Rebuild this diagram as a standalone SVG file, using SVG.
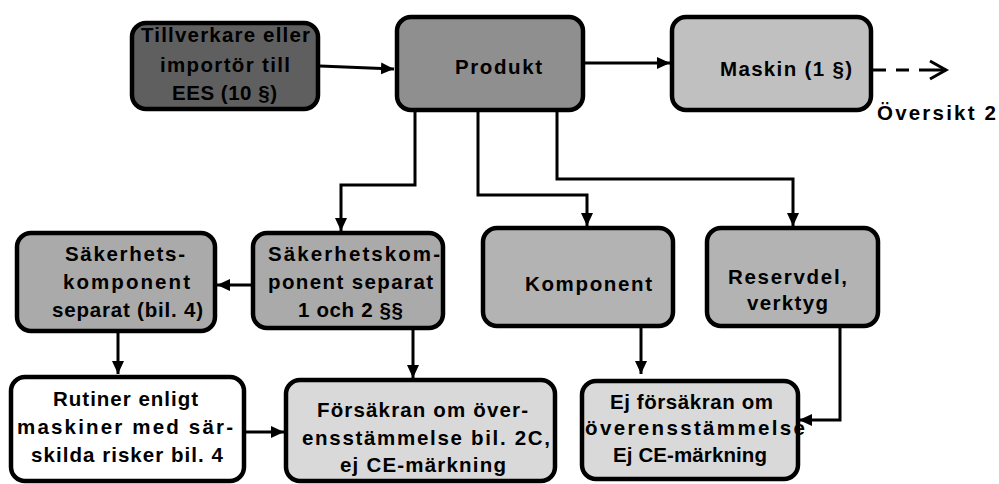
<svg xmlns="http://www.w3.org/2000/svg" width="999" height="484" viewBox="0 0 999 484">
<style>
.box{stroke:#000;stroke-width:4.5}
.t{font-family:"Liberation Sans",Arial,sans-serif;font-weight:bold;font-size:20.5px;fill:#000}
.c{fill:none;stroke:#000;stroke-width:3}
</style>
<defs>
<marker id="ah" markerUnits="userSpaceOnUse" markerWidth="14" markerHeight="14" viewBox="0 0 14 14" refX="13" refY="7" orient="auto">
<path d="M0,1 L13,7 L0,13 Z" fill="#000"/>
</marker>
</defs>
<rect width="999" height="484" fill="#fff"/>
<g id="connectors">
<path class="c" d="M320,66 L394,69" marker-end="url(#ah)"/>
<path class="c" d="M585,63 H670" marker-end="url(#ah)"/>
<path class="c" d="M873,70 H946" stroke-dasharray="13 10 13 10 40"/>
<path class="c" d="M930,61 L946,70 L930,79"/>
<path class="c" d="M415,112 V185 H341 V231" marker-end="url(#ah)"/>
<path class="c" d="M478,112 V195 H587 V226" marker-end="url(#ah)"/>
<path class="c" d="M557,112 V179 H793 V226" marker-end="url(#ah)"/>
<path class="c" d="M253,285 H217" marker-end="url(#ah)"/>
<path class="c" d="M118,332 V374" marker-end="url(#ah)"/>
<path class="c" d="M413,328 V378" marker-end="url(#ah)"/>
<path class="c" d="M244,432 H284" marker-end="url(#ah)"/>
<path class="c" d="M641,326 V374" marker-end="url(#ah)"/>
<path class="c" d="M840,326 V420 H799" marker-end="url(#ah)"/>
</g>
<g id="n-tillverkare">
<rect class="box" x="132" y="23" width="186" height="86" rx="14" fill="#5f5f5f"/>
<text class="t" x="141" y="42" textLength="169" lengthAdjust="spacing">Tillverkare eller</text>
<text class="t" x="160" y="72" textLength="130" lengthAdjust="spacing">importör till</text>
<text class="t" x="172" y="100" textLength="105" lengthAdjust="spacing">EES (10 §)</text>
</g>
<g id="n-produkt">
<rect class="box" x="397" y="17" width="186" height="93" rx="14" fill="#8f8f8f"/>
<text class="t" x="455" y="74" textLength="87" lengthAdjust="spacing">Produkt</text>
</g>
<g id="n-maskin">
<rect class="box" x="672" y="17" width="199" height="93" rx="14" fill="#c0c0c0"/>
<text class="t" x="720" y="76" textLength="132" lengthAdjust="spacing">Maskin (1 §)</text>
</g>
<g id="n-oversikt">
<text class="t" x="877" y="120" textLength="119" lengthAdjust="spacing">Översikt 2</text>
</g>
<g id="n-sakkomp-bil4">
<rect class="box" x="17" y="233" width="198" height="98" rx="14" fill="#aaaaaa"/>
<text class="t" x="65" y="261" textLength="120" lengthAdjust="spacing">Säkerhets-</text>
<text class="t" x="63" y="289" textLength="127" lengthAdjust="spacing">komponent</text>
<text class="t" x="52" y="317" textLength="151" lengthAdjust="spacing">separat (bil. 4)</text>
</g>
<g id="n-sakkomp">
<rect class="box" x="253" y="233" width="190" height="95" rx="14" fill="#aaaaaa"/>
<text class="t" x="268" y="261" textLength="172" lengthAdjust="spacing">Säkerhetskom-</text>
<text class="t" x="268" y="289" textLength="165" lengthAdjust="spacing">ponent separat</text>
<text class="t" x="298" y="317" textLength="105" lengthAdjust="spacing">1 och 2 §§</text>
</g>
<g id="n-komponent">
<rect class="box" x="483" y="228" width="190" height="98" rx="14" fill="#b3b3b3"/>
<text class="t" x="525" y="291" textLength="127" lengthAdjust="spacing">Komponent</text>
</g>
<g id="n-reservdel">
<rect class="box" x="707" y="228" width="171" height="98" rx="14" fill="#b3b3b3"/>
<text class="t" x="728" y="284" textLength="119" lengthAdjust="spacing">Reservdel,</text>
<text class="t" x="747" y="310" textLength="81" lengthAdjust="spacing">verktyg</text>
</g>
<g id="n-rutiner">
<rect class="box" x="11" y="377" width="233" height="104" rx="14" fill="#fff"/>
<text class="t" x="53" y="406" textLength="145" lengthAdjust="spacing">Rutiner enligt</text>
<text class="t" x="17" y="434" textLength="216" lengthAdjust="spacing">maskiner med sär-</text>
<text class="t" x="31" y="462" textLength="192" lengthAdjust="spacing">skilda risker bil. 4</text>
</g>
<g id="n-forsakran">
<rect class="box" x="286" y="380" width="269" height="101" rx="14" fill="#d9d9d9"/>
<text class="t" x="317" y="417" textLength="211" lengthAdjust="spacing">Försäkran om över-</text>
<text class="t" x="302" y="445" textLength="248" lengthAdjust="spacing">ensstämmelse bil. 2C,</text>
<text class="t" x="340" y="472" textLength="166" lengthAdjust="spacing">ej CE-märkning</text>
</g>
<g id="n-ej-forsakran">
<rect class="box" x="582" y="381" width="216" height="98" rx="14" fill="#d9d9d9"/>
<text class="t" x="610" y="409" textLength="163" lengthAdjust="spacing">Ej försäkran om</text>
<text class="t" x="585" y="435" textLength="220" lengthAdjust="spacing">överensstämmelse</text>
<text class="t" x="613" y="462" textLength="154" lengthAdjust="spacing">Ej CE-märkning</text>
</g>
</svg>
